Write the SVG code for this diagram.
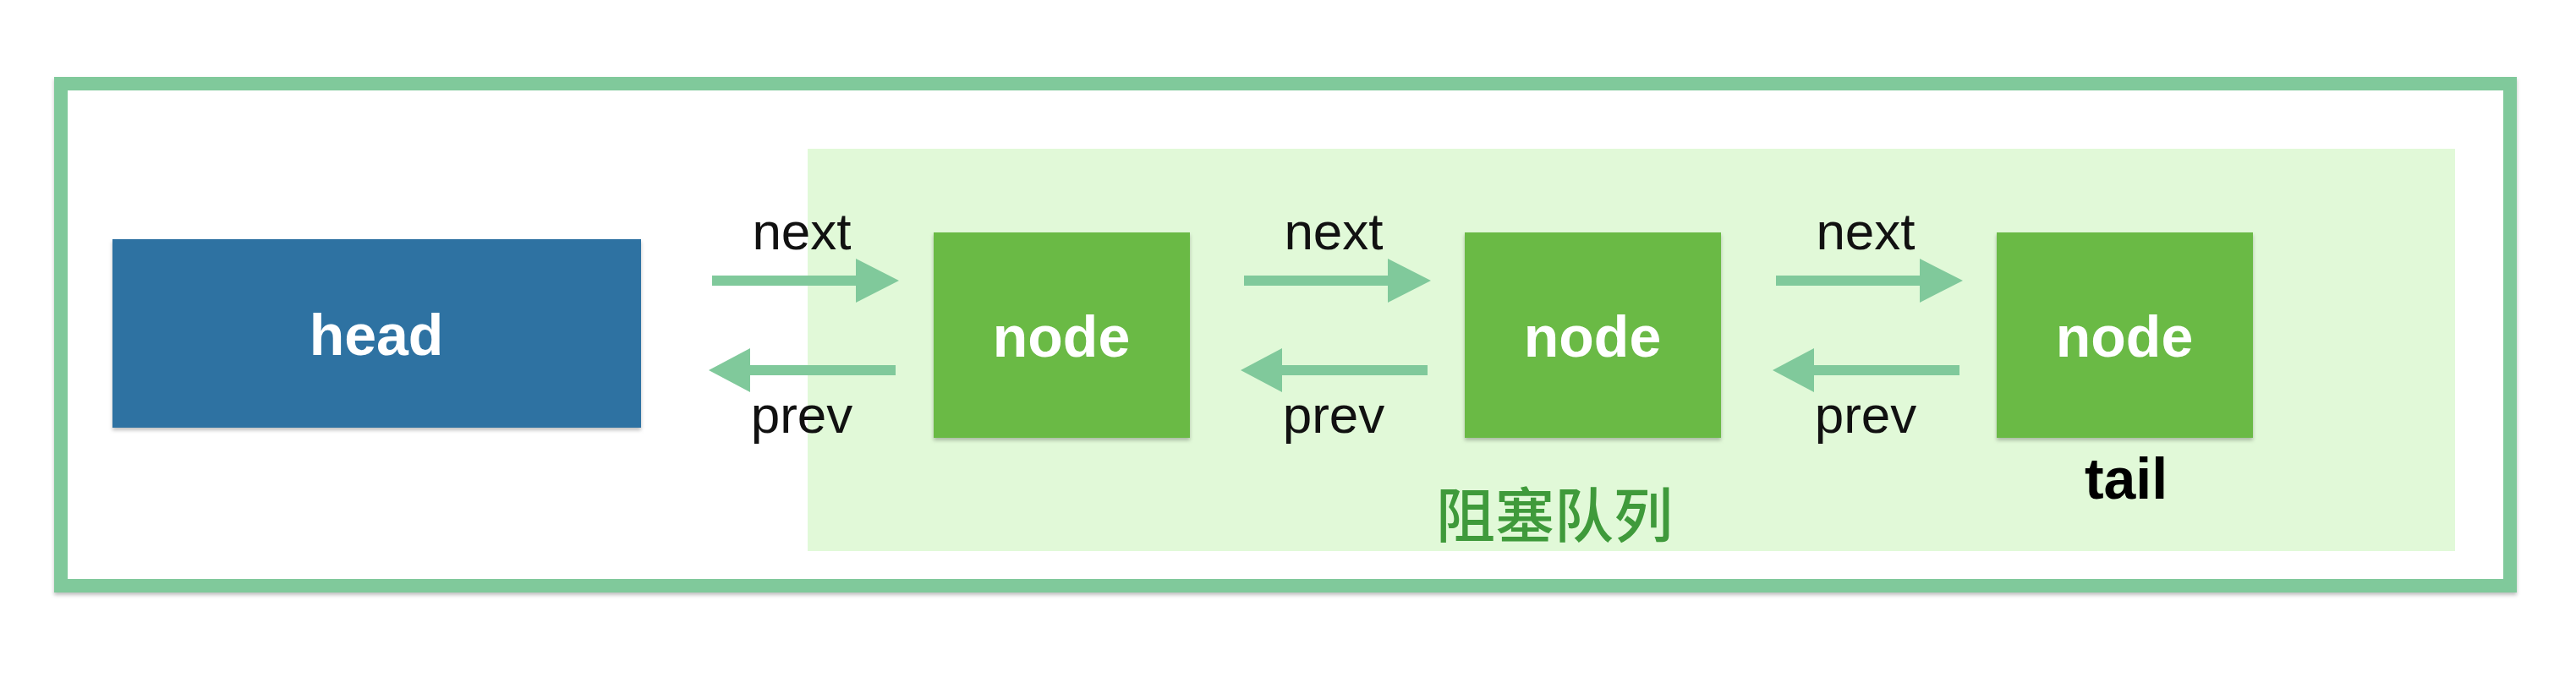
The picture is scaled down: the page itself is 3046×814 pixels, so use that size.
<svg xmlns="http://www.w3.org/2000/svg" width="3046" height="814" viewBox="0 0 3046 814">
  <defs>
    <filter id="shadow" x="-5%" y="-5%" width="110%" height="115%">
      <feDropShadow dx="0" dy="3" stdDeviation="2" flood-color="#000" flood-opacity="0.25"/>
    </filter>
    <style>
      .box-text { font-family: "Liberation Sans", Arial, sans-serif; font-weight: bold; font-size: 68px; fill: #ffffff; text-anchor: middle; }
      .lbl { font-family: "Liberation Sans", Arial, sans-serif; font-size: 62px; fill: #111111; text-anchor: middle; }
      .node-rect { fill: #6aba44; }
      .arrow { fill: #80c99b; }
    </style>
  </defs>
  <rect x="0" y="0" width="3046" height="814" fill="#ffffff"/>

  <g id="container">
    <rect x="72" y="99" width="2896" height="594" fill="#ffffff" stroke="#80c99b" stroke-width="16" filter="url(#shadow)"/>
  </g>

  <g id="blocking-queue">
    <rect x="955" y="176" width="1948" height="476" fill="#e1f9d8"/>
    <text x="1838" y="636" font-family="'Noto Sans CJK SC', sans-serif" font-weight="500" font-size="70" fill="#3f9a3b" text-anchor="middle">阻塞队列</text>
  </g>

  <g id="head">
    <rect x="133" y="283" width="625" height="223" fill="#2f72a2" filter="url(#shadow)"/>
    <text class="box-text" x="445" y="420">head</text>
  </g>

  <g id="node1">
    <rect class="node-rect" x="1104" y="275" width="303" height="243" filter="url(#shadow)"/>
    <text class="box-text" x="1255" y="422">node</text>
  </g>

  <g id="node2">
    <rect class="node-rect" x="1732" y="275" width="303" height="243" filter="url(#shadow)"/>
    <text class="box-text" x="1883" y="422">node</text>
  </g>

  <g id="node3">
    <rect class="node-rect" x="2361" y="275" width="303" height="243" filter="url(#shadow)"/>
    <text class="box-text" x="2512" y="422">node</text>
    <text x="2514" y="590" font-family="'Liberation Sans', Arial, sans-serif" font-weight="bold" font-size="68" fill="#000000" text-anchor="middle">tail</text>
  </g>

  <g id="connectors">
    <!-- head <-> node1 -->
    <polygon class="arrow" points="842,326 1012,326 1012,306 1063,332 1012,358 1012,338 842,338"/>
    <polygon class="arrow" points="1059,432 887,432 887,412 838,438 887,464 887,444 1059,444"/>
    <text class="lbl" x="948" y="295">next</text>
    <text class="lbl" x="948" y="512">prev</text>
    <!-- node1 <-> node2 -->
    <polygon class="arrow" points="1471,326 1641,326 1641,306 1692,332 1641,358 1641,338 1471,338"/>
    <polygon class="arrow" points="1688,432 1516,432 1516,412 1467,438 1516,464 1516,444 1688,444"/>
    <text class="lbl" x="1577" y="295">next</text>
    <text class="lbl" x="1577" y="512">prev</text>
    <!-- node2 <-> node3 -->
    <polygon class="arrow" points="2100,326 2270,326 2270,306 2321,332 2270,358 2270,338 2100,338"/>
    <polygon class="arrow" points="2317,432 2145,432 2145,412 2096,438 2145,464 2145,444 2317,444"/>
    <text class="lbl" x="2206" y="295">next</text>
    <text class="lbl" x="2206" y="512">prev</text>
  </g>
</svg>
